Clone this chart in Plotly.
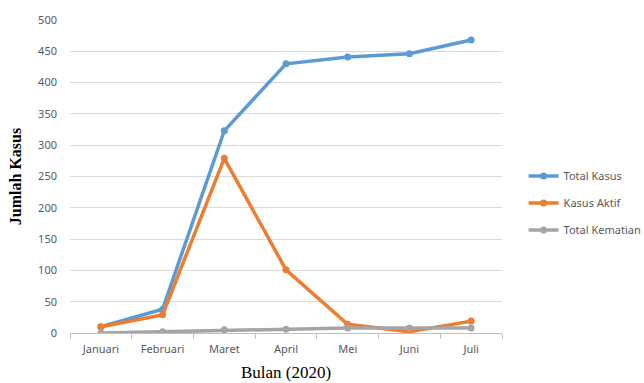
import plotly.graph_objects as go

# Monthly COVID-19 figures, 2020
bulan = ["Januari", "Februari", "Maret", "April", "Mei", "Juni", "Juli"]
total_kasus = [10, 38, 323, 430, 441, 446, 468]
kasus_aktif = [10, 29, 279, 101, 14, 2, 19]
total_kematian = [0, 2, 5, 6, 8, 8, 8]

series = [
    ("Total Kasus", total_kasus, "#5B9BD5"),
    ("Kasus Aktif", kasus_aktif, "#ED7D31"),
    ("Total Kematian", total_kematian, "#A5A5A5"),
]

fig = go.Figure()
for i, (name, vals, color) in enumerate(series):
    fig.add_trace(go.Scatter(
        x=bulan, y=vals, name=name, mode="lines+markers",
        line=dict(color=color, width=3.5),
        marker=dict(color=color, size=7),
        legendgroup=f"g{i}",
    ))

tick_font = dict(family="Noto Sans, Open Sans, sans-serif", size=11, color="#595959")

fig.update_layout(
    width=644, height=383,
    margin=dict(l=70, r=142, t=20, b=50, autoexpand=False),
    paper_bgcolor="white", plot_bgcolor="white",
    showlegend=True,
    legend=dict(
        x=1.05, y=0.415, xanchor="left", yanchor="middle",
        font=dict(family="Noto Sans, Open Sans, sans-serif", size=11, color="#595959"),
        tracegroupgap=8, itemwidth=30,
    ),
    xaxis=dict(
        type="category", tickfont=tick_font,
        showgrid=False, showline=True, linecolor="#BFBFBF", linewidth=1,
        ticks="outside", tickson="boundaries", ticklen=5, tickcolor="#BFBFBF",
        ticklabelstandoff=6,
        range=[-0.5, 6.5],
        title=dict(text="Bulan (2020)", font=dict(family="Liberation Serif, DejaVu Serif, serif", size=17, color="#000000"), standoff=10),
    ),
    yaxis=dict(
        range=[0, 500], dtick=50, tickfont=tick_font,
        showgrid=True, gridcolor="#D9D9D9", gridwidth=1,
        zeroline=False, showline=False, ticks="",
        ticklabelstandoff=12,
        title=dict(text="<b>Jumlah Kasus</b>", font=dict(family="Liberation Serif, DejaVu Serif, serif", size=16, color="#000000"), standoff=12),
    ),
)

fig.write_html("out.html")
